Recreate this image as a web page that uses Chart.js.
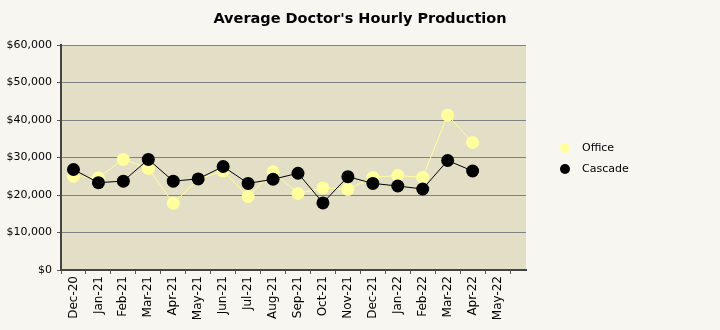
<!DOCTYPE html>
<html>
<head>
<meta charset="utf-8">
<script src="https://cdn.jsdelivr.net/npm/chart.js@4.4.1/dist/chart.umd.min.js"></script>
<style>
  html, body { margin: 0; padding: 0; background: #f8f6f0; }
  #wrap { width: 720px; height: 330px; position: relative; }
</style>
</head>
<body>
<div id="wrap"><canvas id="c"></canvas></div>
<script>
// Monthly average hourly production per doctor
const months = ['Dec-20', 'Jan-21', 'Feb-21', 'Mar-21', 'Apr-21', 'May-21', 'Jun-21', 'Jul-21', 'Aug-21',
  'Sep-21', 'Oct-21', 'Nov-21', 'Dec-21', 'Jan-22', 'Feb-22', 'Mar-22', 'Apr-22', 'May-22'];
const officeValues = [25000, 24600, 29500, 27100, 17800, 24200, 26400, 19600, 26200,
  20400, 21900, 21500, 24700, 25200, 24700, 41300, 34000, null];
const cascadeValues = [26800, 23300, 23700, 29500, 23700, 24300, 27600, 23100, 24200,
  25800, 17900, 24900, 23100, 22400, 21600, 29200, 26400, null];
const yTicks = [0, 10000, 20000, 30000, 40000, 50000, 60000];

const FONT = 'DejaVu Sans';

// Fill the plotting area
const plotBackground = {
  id: 'plotBackground',
  beforeDraw(chart) {
    const { ctx, chartArea: a } = chart;
    ctx.save();
    ctx.fillStyle = '#e2dfc6';
    ctx.fillRect(a.left, a.top, a.right - a.left, a.bottom - a.top);
    ctx.restore();
  }
};

// Side legend built from the datasets, drawn in the right-hand gutter
const sideLegend = {
  id: 'sideLegend',
  afterDraw(chart) {
    const { ctx, chartArea: a } = chart;
    ctx.save();
    ctx.font = '11px ' + FONT;
    ctx.textBaseline = 'middle';
    ctx.textAlign = 'left';
    chart.data.datasets.forEach((ds, i) => {
      const y = 148 + i * 21;
      const x = a.right + 39;
      ctx.beginPath();
      ctx.arc(x, y, 5, 0, Math.PI * 2);
      ctx.fillStyle = ds.pointBackgroundColor;
      ctx.fill();
      ctx.fillStyle = '#000';
      ctx.fillText(ds.label, x + 17, y);
    });
    ctx.restore();
  }
};

new Chart(document.getElementById('c'), {
  type: 'line',
  data: {
    labels: months,
    datasets: [
      {
        label: 'Office',
        data: officeValues,
        borderColor: '#ffff9e',
        backgroundColor: '#ffff9e',
        pointBackgroundColor: '#ffff9e',
        pointBorderWidth: 0,
        pointRadius: 6.5,
        borderWidth: 1,
        tension: 0,
        order: 1
      },
      {
        label: 'Cascade',
        data: cascadeValues,
        borderColor: '#000000',
        backgroundColor: '#000000',
        pointBackgroundColor: '#000000',
        pointBorderWidth: 0,
        pointRadius: 6.5,
        borderWidth: 1,
        tension: 0,
        order: 0
      }
    ]
  },
  options: {
    responsive: true,
    maintainAspectRatio: false,
    animation: false,
    layout: { padding: 0 },
    plugins: {
      legend: { display: false },
      tooltip: { enabled: false },
      title: {
        display: true,
        text: "Average Doctor's Hourly Production",
        color: '#000',
        font: { family: FONT, size: 14.5, weight: 'bold', lineHeight: 1.2 },
        padding: { top: 11, bottom: 16.6 }
      }
    },
    scales: {
      x: {
        type: 'category',
        offset: true,
        grid: {
          offset: true,
          drawOnChartArea: false,
          drawTicks: true,
          tickLength: 4,
          tickColor: '#555'
        },
        border: { display: true, color: '#444', width: 2 },
        ticks: {
          color: '#000',
          font: { family: FONT, size: 12 },
          minRotation: 90,
          maxRotation: 90,
          autoSkip: false,
          padding: 2
        },
        // month slots are slightly narrower than the plot width
        afterBuildTicks(axis) { axis._valueRange = 18.64; },
        afterFit(axis) { axis.height = 60; }
      },
      y: {
        min: 0,
        max: 60000,
        afterBuildTicks(axis) { axis.ticks = yTicks.map(v => ({ value: v })); },
        grid: {
          color: '#808080',
          lineWidth: 1,
          drawTicks: true,
          tickLength: 4,
          tickColor: '#555'
        },
        border: { display: true, color: '#444', width: 2 },
        ticks: {
          color: '#000',
          font: { family: FONT, size: 11 },
          padding: 5,
          callback: v => '$' + Number(v).toLocaleString('en-US')
        },
        afterFit(axis) { axis.width = 61; }
      },
      // empty right-hand axis that reserves room for the legend column
      gutter: {
        type: 'linear',
        position: 'right',
        min: 0,
        max: 1,
        grid: { drawOnChartArea: false, drawTicks: false },
        border: { display: false },
        ticks: { display: false },
        afterFit(axis) { axis.width = 194; }
      }
    }
  },
  plugins: [plotBackground, sideLegend]
});
</script>
</body>
</html>
